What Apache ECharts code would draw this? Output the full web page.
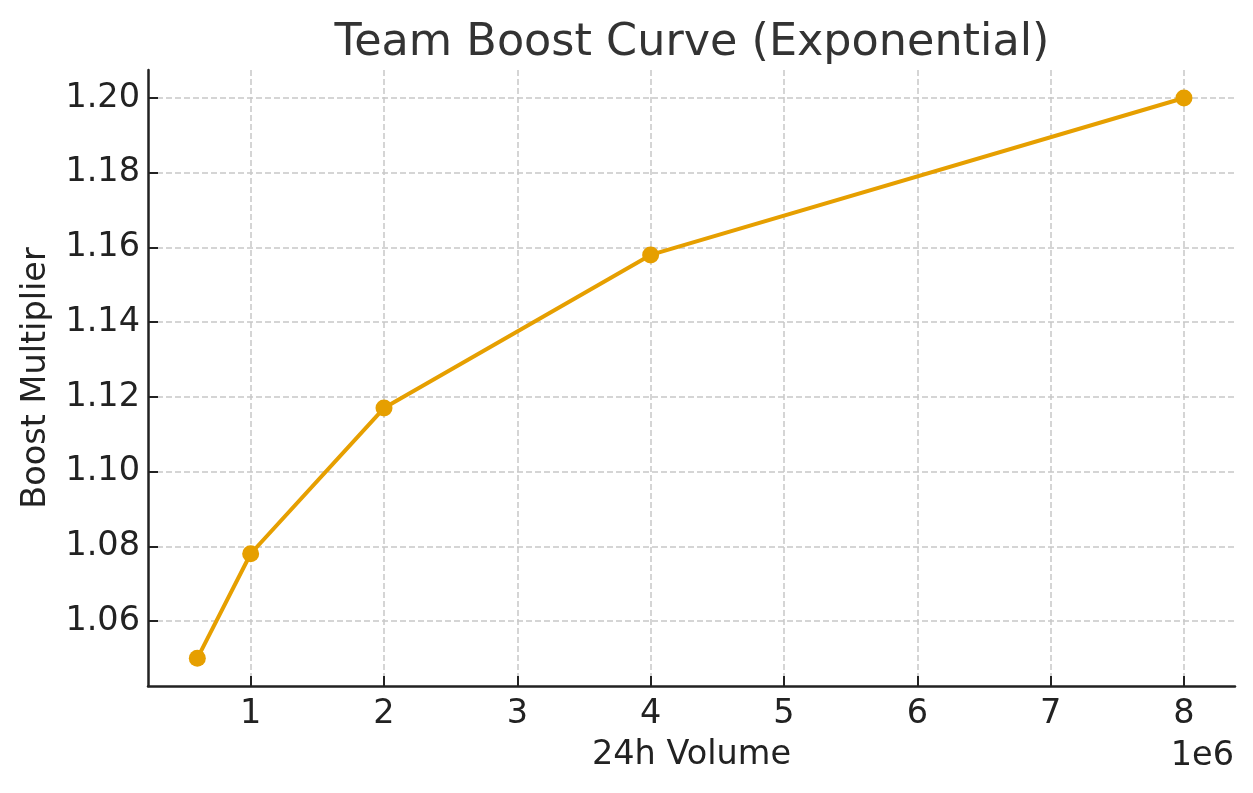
<!DOCTYPE html>
<html>
<head>
<meta charset="utf-8">
<script src="https://cdn.jsdelivr.net/npm/echarts@6/dist/echarts.min.js"></script>
<style>
  html, body { margin: 0; padding: 0; background: #fff; }
  #chart { width: 1253px; height: 793px; }
</style>
</head>
<body>
<div id="chart"></div>
<script>
// Team boost data (volume in raw units, multiplier)
const volume = [600000, 1000000, 2000000, 4000000, 8000000];
const boost = [1.05, 1.078, 1.117, 1.158, 1.20];
const xTicks = [1e6, 2e6, 3e6, 4e6, 5e6, 6e6, 7e6, 8e6];
const yTicks = [1.06, 1.08, 1.10, 1.12, 1.14, 1.16, 1.18, 1.20];

const font = 'DejaVu Sans';
const labelSize = 33.5;
const chart = echarts.init(document.getElementById('chart'));

const gridLine = { show: true, lineStyle: { color: '#c8c8c8', width: 1.5, type: [6, 3] } };

chart.setOption({
  backgroundColor: '#ffffff',
  animation: false,
  title: {
    text: 'Team Boost Curve (Exponential)',
    left: 687, top: 16, textAlign: 'center',
    textStyle: { fontFamily: font, fontSize: 44.5, fontWeight: 'normal', color: '#333333' }
  },
  grid: { left: 148, right: 18, top: 70, bottom: 107 },
  xAxis: {
    type: 'value',
    min: 230000, max: 8383000,
    name: '24h Volume',
    nameLocation: 'middle',
    nameGap: 52,
    nameTextStyle: { fontFamily: font, fontSize: labelSize, color: '#222222' },
    axisLine: { show: true, onZero: false, lineStyle: { color: '#222222', width: 2.5 } },
    axisTick: { show: true, inside: true, length: 10, customValues: xTicks, lineStyle: { color: '#222222', width: 2 } },
    axisLabel: {
      customValues: xTicks, margin: 11,
      fontFamily: font, fontSize: labelSize, color: '#222222',
      formatter: v => String(Math.round(v / 1e6))
    },
    splitLine: gridLine
  },
  yAxis: {
    type: 'value',
    min: 1.0426, max: 1.2075,
    name: 'Boost Multiplier',
    nameLocation: 'middle',
    nameGap: 95,
    nameRotate: 90,
    nameTextStyle: { fontFamily: font, fontSize: labelSize, color: '#222222' },
    axisLine: { show: true, onZero: false, lineStyle: { color: '#222222', width: 2.5 } },
    axisTick: { show: true, inside: true, length: 10, customValues: yTicks, lineStyle: { color: '#222222', width: 2 } },
    axisLabel: {
      customValues: yTicks, margin: 8,
      fontFamily: font, fontSize: labelSize, color: '#222222',
      formatter: v => v.toFixed(2)
    },
    splitLine: gridLine
  },
  graphic: [{
    type: 'text',
    right: 19, top: 739,
    style: { text: '1e6', font: labelSize + 'px "DejaVu Sans"', fill: '#222222' }
  }],
  series: [{
    type: 'line',
    data: volume.map((v, i) => [v, boost[i]]),
    lineStyle: { color: '#E69F00', width: 4 },
    itemStyle: { color: '#E69F00' },
    symbol: 'circle',
    symbolSize: 17,
    showSymbol: true
  }]
});
</script>
</body>
</html>
